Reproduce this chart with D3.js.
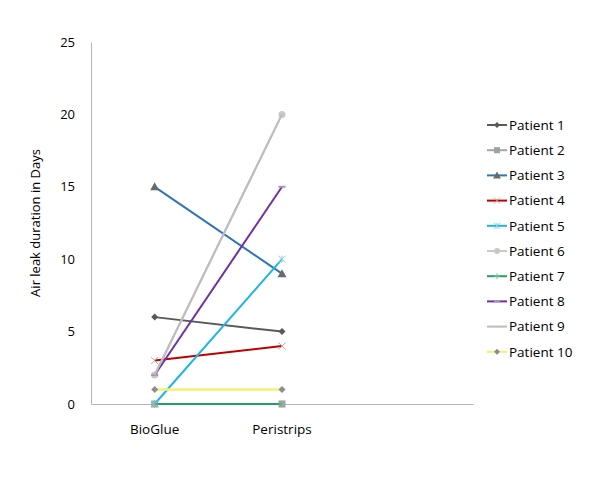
<!DOCTYPE html>
<html>
<head>
<meta charset="utf-8">
<script src="https://cdn.jsdelivr.net/npm/d3@7"></script>
<style>
    body { margin: 0; background: #fff; }
    text { font-family: "Open Sans", "Noto Sans", sans-serif; fill: #000; }
</style>
</head>
<body>
<script>
(function () {
    "use strict";

    // categories (third slot is empty, like the source chart)
    var categories = ["BioGlue", "Peristrips", ""];
    var yTicks = [0, 5, 10, 15, 20, 25];

    var patients = ["Patient 1", "Patient 2", "Patient 3", "Patient 4", "Patient 5",
                    "Patient 6", "Patient 7", "Patient 8", "Patient 9", "Patient 10"];
    var bioGlue =    [6, 0, 15, 3, 0, 2, 0, 2, 2, 1];
    var peristrips = [5, 0, 9, 4, 10, 20, 0, 15, 20, 1];

    var lineColors = ["#595959", "#a5a5a5", "#2e75b6", "#c00000", "#1fb4e6",
                      "#c8c8c8", "#22a060", "#7030a0", "#bdbdbd", "#f5f070"];
    var markerColors = ["#595959", "#a0a0a0", "#6a6a6a", "#c8a0a0", "#8ccbe6",
                        "#c8c8c8", "#7fbf9a", "#a890c0", "none", "#8c8c8c"];
    var markers = ["diamond", "square", "triangle", "x", "star",
                   "circle", "plus", "dash", "none", "diamond"];

    var margin = {top: 42, left: 91};
    var width = 382, height = 362;

    var svg = d3.select("body").append("svg")
            .attr("width", 600)
            .attr("height", 491);

    var g = svg.append("g")
            .attr("transform", "translate(" + margin.left + "," + margin.top + ")");

    var x = d3.scaleBand().domain(categories).range([0, width]);
    var y = d3.scaleLinear().domain([0, 25]).range([height, 0]);

    // axes
    var yAxis = g.append("g")
            .call(d3.axisLeft(y).tickValues(yTicks).tickSize(0).tickPadding(16));
    yAxis.select(".domain").attr("stroke", "#b3b3b3");
    yAxis.selectAll("text").style("font-size", "13px");

    var xAxis = g.append("g")
            .attr("transform", "translate(0," + height + ")")
            .call(d3.axisBottom(x).tickSize(0).tickPadding(20));
    xAxis.select(".domain").attr("stroke", "#b3b3b3");
    xAxis.selectAll("text").style("font-size", "13.5px");

    svg.append("text")
            .attr("transform", "translate(40," + (margin.top + height / 2) + ") rotate(-90)")
            .attr("text-anchor", "middle")
            .style("font-size", "13px")
            .text("Air leak duration in Days");

    function drawMarker(sel, type, color, size) {
        var s = size;
        if (type === "diamond") {
            sel.append("path").attr("d", "M0,-" + s + "L" + s + ",0L0," + s + "L-" + s + ",0Z").attr("fill", color);
        } else if (type === "square") {
            sel.append("rect").attr("x", -s).attr("y", -s).attr("width", 2 * s).attr("height", 2 * s).attr("fill", color);
        } else if (type === "triangle") {
            sel.append("path").attr("d", "M0,-" + (s + 1) + "L" + (s + 1) + "," + s + "L-" + (s + 1) + "," + s + "Z").attr("fill", color);
        } else if (type === "circle") {
            sel.append("circle").attr("r", s).attr("fill", color);
        } else if (type === "x" || type === "star") {
            var p = "M-" + s + ",-" + s + "L" + s + "," + s + "M-" + s + "," + s + "L" + s + ",-" + s;
            if (type === "star") p += "M0,-" + s + "L0," + s;
            sel.append("path").attr("d", p).attr("stroke", color).attr("stroke-width", 1);
        } else if (type === "plus") {
            sel.append("path").attr("d", "M-" + s + ",0L" + s + ",0M0,-" + s + "L0," + s).attr("stroke", color).attr("stroke-width", 1);
        } else if (type === "dash") {
            sel.append("path").attr("d", "M-" + s + ",0L" + s + ",0").attr("stroke", color).attr("stroke-width", 2);
        }
    }

    var line = d3.line()
            .x(function (d) { return x(d.cat) + x.bandwidth() / 2; })
            .y(function (d) { return y(d.v); });

    patients.forEach(function (name, i) {
        var pts = [{cat: categories[0], v: bioGlue[i]}, {cat: categories[1], v: peristrips[i]}];
        var sg = g.append("g");
        sg.append("path")
                .datum(pts)
                .attr("d", line)
                .attr("fill", "none")
                .attr("stroke", lineColors[i])
                .attr("stroke-width", i === 9 ? 2.5 : 2);
        pts.forEach(function (d) {
            var m = sg.append("g")
                    .attr("transform", "translate(" + (x(d.cat) + x.bandwidth() / 2) + "," + y(d.v) + ")");
            drawMarker(m, markers[i], markerColors[i], 3.5);
        });
    });

    // legend
    var legend = svg.append("g").attr("transform", "translate(487,125)");
    patients.forEach(function (name, i) {
        var lg = legend.append("g").attr("transform", "translate(0," + (i * 25.2) + ")");
        lg.append("line")
                .attr("x1", 0).attr("x2", 20)
                .attr("stroke", lineColors[i])
                .attr("stroke-width", 2);
        drawMarker(lg.append("g").attr("transform", "translate(10,0)"), markers[i], markerColors[i], 3);
        lg.append("text")
                .attr("x", 22)
                .attr("dy", "0.35em")
                .style("font-size", "13.5px")
                .text(name);
    });
})();
</script>
</body>
</html>
